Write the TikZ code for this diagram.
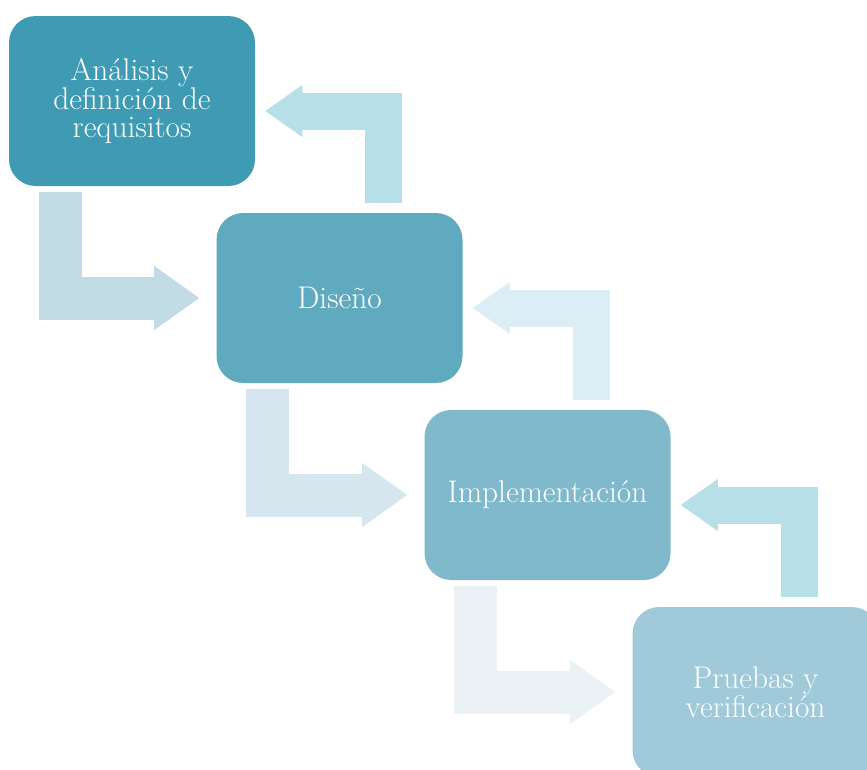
\documentclass[tikz,border=0pt]{standalone}
\usepackage{tikz}
\usetikzlibrary{arrows.meta,calc}
\definecolor{stageA}{HTML}{3F9AB3}
\definecolor{stageB}{HTML}{60AAC0}
\definecolor{stageC}{HTML}{80B8CC}
\definecolor{stageD}{HTML}{A0C9D9}
\definecolor{fwdA}{HTML}{C2DCE6}
\definecolor{fwdB}{HTML}{D5E6EE}
\definecolor{fwdC}{HTML}{EAF2F5}
\definecolor{backA}{HTML}{B7DFE8}
\definecolor{backB}{HTML}{DCEEF5}
\begin{document}
\begin{tikzpicture}[x=0.75pt,y=-0.75pt,
stage/.style={rounded corners=20pt, minimum width=184.5pt, minimum height=127.5pt,
  inner sep=0pt, text=white, align=center, font=\fontsize{23.5}{21.5}\selectfont},
fwd/.style={line width=32.25pt, -{Triangle[length=33.75pt,width=48pt,line width=0pt]}, shorten >=12.75pt},
back/.style={line width=27.75pt, -{Triangle[length=27.75pt,width=39pt,line width=0pt]}, shorten >=7.5pt}]
\useasboundingbox (0,0) rectangle (867,769);
\node[stage, fill=stageA] (req) at (132,101) {An\'alisis y\\definici\'on de\\requisitos};
\node[stage, fill=stageB] (dis) at (339.5,298) {Dise\~no};
\node[stage, fill=stageC] (imp) at (547.5,495) {Implementaci\'on};
\node[stage, fill=stageD] (pru) at (755.5,692) {Pruebas y\\verificaci\'on};
% forward
\draw[fwd, fwdA] ($(req.south west)+(51.5,6)$) |- (dis.west);
\draw[fwd, fwdB] ($(dis.south west)+(51.5,6)$) |- (imp.west);
\draw[fwd, fwdC] ($(imp.south west)+(51.5,6)$) |- (pru.west);
% back
\draw[back, backA] ($(dis.north)+(44,-10)$) |- ($(req.east)+(0,10)$);
\draw[back, backB] ($(imp.north)+(44,-10)$) |- ($(dis.east)+(0,10)$);
\draw[back, backA] ($(pru.north)+(44,-10)$) |- ($(imp.east)+(0,10)$);
\end{tikzpicture}
\end{document}
